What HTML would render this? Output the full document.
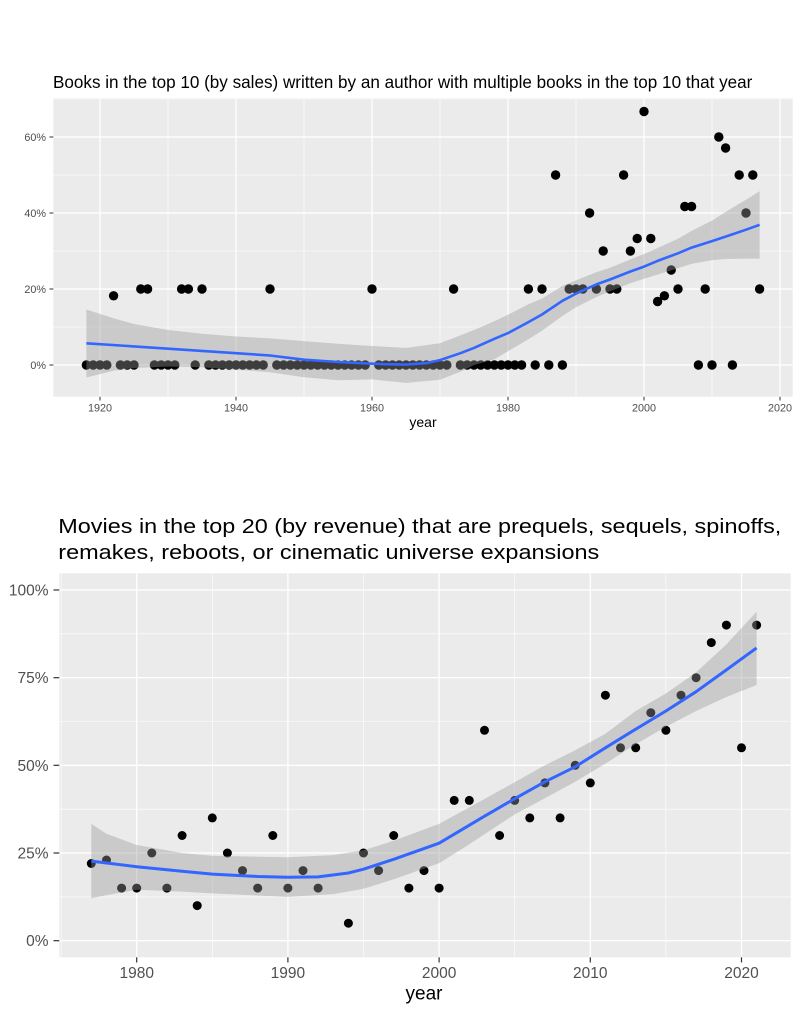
<!DOCTYPE html>
<html><head><meta charset="utf-8"><style>
html,body{margin:0;padding:0;background:#fff;}
svg{display:block;}
text{font-family:"Liberation Sans",Arial,sans-serif;}
</style></head><body>
<svg width="800" height="1014" viewBox="0 0 800 1014" xmlns="http://www.w3.org/2000/svg">
<rect width="800" height="1014" fill="#fff"/>

<!-- ============ TOP CHART ============ -->
<text x="53" y="88" font-size="17.1" fill="#000">Books in the top 10 (by sales) written by an author with multiple books in the top 10 that year</text>
<rect x="53.3" y="98.3" width="739.4" height="298.4" fill="#EBEBEB"/>
<g stroke="#fff" stroke-width="0.6">
<line x1="53.3" x2="792.7" y1="327" y2="327"/><line x1="53.3" x2="792.7" y1="251" y2="251"/>
<line x1="53.3" x2="792.7" y1="175" y2="175"/><line x1="53.3" x2="792.7" y1="99" y2="99"/>
<line y1="98.3" y2="396.7" x1="168" x2="168"/><line y1="98.3" y2="396.7" x1="304" x2="304"/>
<line y1="98.3" y2="396.7" x1="440" x2="440"/><line y1="98.3" y2="396.7" x1="576" x2="576"/>
<line y1="98.3" y2="396.7" x1="712" x2="712"/>
</g>
<g stroke="#fff" stroke-width="1.2">
<line x1="53.3" x2="792.7" y1="365" y2="365"/><line x1="53.3" x2="792.7" y1="289" y2="289"/>
<line x1="53.3" x2="792.7" y1="213" y2="213"/><line x1="53.3" x2="792.7" y1="137" y2="137"/>
<line y1="98.3" y2="396.7" x1="100" x2="100"/><line y1="98.3" y2="396.7" x1="236" x2="236"/>
<line y1="98.3" y2="396.7" x1="372" x2="372"/><line y1="98.3" y2="396.7" x1="508" x2="508"/>
<line y1="98.3" y2="396.7" x1="644" x2="644"/><line y1="98.3" y2="396.7" x1="780" x2="780"/>
</g>
<!-- points -->
<g fill="#000">
<circle cx="86.4" cy="365" r="4.7"/><circle cx="93.2" cy="365" r="4.7"/><circle cx="100" cy="365" r="4.7"/><circle cx="106.8" cy="365" r="4.7"/>
<circle cx="120.4" cy="365" r="4.7"/><circle cx="127.2" cy="365" r="4.7"/><circle cx="134" cy="365" r="4.7"/>
<circle cx="154.4" cy="365" r="4.7"/><circle cx="161.2" cy="365" r="4.7"/><circle cx="168" cy="365" r="4.7"/><circle cx="174.8" cy="365" r="4.7"/>
<circle cx="195.2" cy="365" r="4.7"/>
<circle cx="208.8" cy="365" r="4.7"/><circle cx="215.6" cy="365" r="4.7"/><circle cx="222.4" cy="365" r="4.7"/><circle cx="229.2" cy="365" r="4.7"/><circle cx="236" cy="365" r="4.7"/><circle cx="242.8" cy="365" r="4.7"/><circle cx="249.6" cy="365" r="4.7"/><circle cx="256.4" cy="365" r="4.7"/><circle cx="263.2" cy="365" r="4.7"/>
<circle cx="276.8" cy="365" r="4.7"/><circle cx="283.6" cy="365" r="4.7"/><circle cx="290.4" cy="365" r="4.7"/><circle cx="297.2" cy="365" r="4.7"/><circle cx="304" cy="365" r="4.7"/><circle cx="310.8" cy="365" r="4.7"/><circle cx="317.6" cy="365" r="4.7"/><circle cx="324.4" cy="365" r="4.7"/><circle cx="331.2" cy="365" r="4.7"/><circle cx="338" cy="365" r="4.7"/><circle cx="344.8" cy="365" r="4.7"/><circle cx="351.6" cy="365" r="4.7"/><circle cx="358.4" cy="365" r="4.7"/><circle cx="365.2" cy="365" r="4.7"/>
<circle cx="378.8" cy="365" r="4.7"/><circle cx="385.6" cy="365" r="4.7"/><circle cx="392.4" cy="365" r="4.7"/><circle cx="399.2" cy="365" r="4.7"/><circle cx="406" cy="365" r="4.7"/><circle cx="412.8" cy="365" r="4.7"/><circle cx="419.6" cy="365" r="4.7"/><circle cx="426.4" cy="365" r="4.7"/><circle cx="433.2" cy="365" r="4.7"/><circle cx="440" cy="365" r="4.7"/><circle cx="446.8" cy="365" r="4.7"/>
<circle cx="460.4" cy="365" r="4.7"/><circle cx="467.2" cy="365" r="4.7"/><circle cx="474" cy="365" r="4.7"/><circle cx="480.8" cy="365" r="4.7"/><circle cx="487.6" cy="365" r="4.7"/><circle cx="494.4" cy="365" r="4.7"/><circle cx="501.2" cy="365" r="4.7"/><circle cx="508" cy="365" r="4.7"/><circle cx="514.8" cy="365" r="4.7"/><circle cx="521.6" cy="365" r="4.7"/>
<circle cx="535.2" cy="365" r="4.7"/><circle cx="548.8" cy="365" r="4.7"/><circle cx="562.4" cy="365" r="4.7"/>
<circle cx="698.4" cy="365" r="4.7"/><circle cx="712" cy="365" r="4.7"/><circle cx="732.4" cy="365" r="4.7"/>
<!-- 20% -->
<circle cx="140.8" cy="289" r="4.7"/><circle cx="147.6" cy="289" r="4.7"/><circle cx="181.6" cy="289" r="4.7"/><circle cx="188.4" cy="289" r="4.7"/><circle cx="202" cy="289" r="4.7"/><circle cx="270" cy="289" r="4.7"/><circle cx="372" cy="289" r="4.7"/><circle cx="453.6" cy="289" r="4.7"/><circle cx="528.4" cy="289" r="4.7"/><circle cx="542" cy="289" r="4.7"/><circle cx="569.2" cy="289" r="4.7"/><circle cx="576" cy="289" r="4.7"/><circle cx="582.8" cy="289" r="4.7"/><circle cx="596.4" cy="289" r="4.7"/><circle cx="610" cy="289" r="4.7"/><circle cx="616.8" cy="289" r="4.7"/><circle cx="678" cy="289" r="4.7"/><circle cx="705.2" cy="289" r="4.7"/><circle cx="759.6" cy="289" r="4.7"/>
<!-- others -->
<circle cx="113.6" cy="295.8" r="4.7"/><circle cx="664.4" cy="295.8" r="4.7"/>
<circle cx="555.6" cy="175" r="4.7"/><circle cx="623.6" cy="175" r="4.7"/><circle cx="739.2" cy="175" r="4.7"/><circle cx="752.8" cy="175" r="4.7"/>
<circle cx="589.6" cy="213" r="4.7"/><circle cx="746" cy="213" r="4.7"/>
<circle cx="603.2" cy="251" r="4.7"/><circle cx="630.4" cy="251" r="4.7"/>
<circle cx="637.2" cy="238.5" r="4.7"/><circle cx="650.8" cy="238.5" r="4.7"/>
<circle cx="644" cy="111.5" r="4.7"/>
<circle cx="657.6" cy="301.5" r="4.7"/>
<circle cx="671.2" cy="270" r="4.7"/>
<circle cx="684.8" cy="206.5" r="4.7"/><circle cx="691.6" cy="206.5" r="4.7"/>
<circle cx="718.8" cy="137" r="4.7"/>
<circle cx="725.6" cy="148" r="4.7"/>
</g>
<!-- ribbon -->
<polygon fill="#999999" fill-opacity="0.4" points="86.4,309.5 113.6,318.3 134,324 168,330 202,333.8 236,336.5 270,338.4 304,341.1 338,343.7 372,346 406,347.9 440,343.3 474,330 494.4,321.3 508,314.8 528.4,304.2 542,298.5 562.4,286 576,280.3 596.4,272.3 610,267.7 630.4,259.4 644,254 657.6,248 678,238.8 691.6,230.9 712,220.6 725.6,211.9 746,199.7 759.6,191.3 759.6,258.6 746,258.6 725.6,259 712,260.1 691.6,263.9 678,268.1 657.6,274.6 644,278.7 630.4,283.3 610,291.3 596.4,297 576,307.2 562.4,316 542,330.8 528.4,339.2 508,351.3 494.4,359.3 474,365 460.4,371.8 440,379.8 406,382.9 372,379.4 338,380.2 304,377.2 270,372.2 236,369.6 202,367.3 168,366.5 134,368 113.6,370.7 86.4,377.5"/>
<polyline fill="none" stroke="#3366FF" stroke-width="2.6" stroke-linejoin="round" stroke-linecap="butt" points="86.4,343.3 134,346.4 168,348.7 202,350.9 236,353.2 270,355.5 304,359.7 338,362 358.4,363.1 385.6,364.2 406,364.6 426.4,363.1 440,360.1 460.4,353.2 474,347.9 494.4,338.8 508,333.1 528.4,322.1 542,314.5 562.4,300.8 576,293.6 596.4,284.4 610,279.5 630.4,271.5 644,266.6 657.6,260.9 678,253.3 691.6,247.6 712,241.1 725.6,236.6 746,229.7 759.6,224.8"/>
<!-- axes ticks -->
<g stroke="#333" stroke-width="1">
<line x1="49.5" x2="53.3" y1="365" y2="365"/><line x1="49.5" x2="53.3" y1="289" y2="289"/><line x1="49.5" x2="53.3" y1="213" y2="213"/><line x1="49.5" x2="53.3" y1="137" y2="137"/>
<line y1="396.7" y2="400.5" x1="100" x2="100"/><line y1="396.7" y2="400.5" x1="236" x2="236"/><line y1="396.7" y2="400.5" x1="372" x2="372"/><line y1="396.7" y2="400.5" x1="508" x2="508"/><line y1="396.7" y2="400.5" x1="644" x2="644"/><line y1="396.7" y2="400.5" x1="780" x2="780"/>
</g>
<g font-size="10.8" fill="#4D4D4D" text-anchor="end">
<text x="46" y="369">0%</text><text x="46" y="293">20%</text><text x="46" y="217">40%</text><text x="46" y="141">60%</text>
</g>
<g font-size="10.8" fill="#4D4D4D" text-anchor="middle">
<text x="100" y="411.5">1920</text><text x="236" y="411.5">1940</text><text x="372" y="411.5">1960</text><text x="508" y="411.5">1980</text><text x="644" y="411.5">2000</text><text x="780" y="411.5">2020</text>
</g>
<text x="423" y="427" font-size="14" fill="#000" text-anchor="middle">year</text>

<!-- ============ BOTTOM CHART ============ -->
<text x="58.3" y="533" font-size="20.5" fill="#000" textLength="723" lengthAdjust="spacingAndGlyphs">Movies in the top 20 (by revenue) that are prequels, sequels, spinoffs,</text>
<text x="58.3" y="559" font-size="20.5" fill="#000" textLength="541" lengthAdjust="spacingAndGlyphs">remakes, reboots, or cinematic universe expansions</text>
<rect x="59.3" y="573.3" width="731.4" height="384" fill="#EBEBEB"/>
<g stroke="#fff" stroke-width="0.6">
<line x1="59.3" x2="790.7" y1="896.9" y2="896.9"/><line x1="59.3" x2="790.7" y1="809.2" y2="809.2"/>
<line x1="59.3" x2="790.7" y1="721.5" y2="721.5"/><line x1="59.3" x2="790.7" y1="633.8" y2="633.8"/>
<line y1="573.3" y2="957.3" x1="61.1" x2="61.1"/><line y1="573.3" y2="957.3" x1="212.3" x2="212.3"/>
<line y1="573.3" y2="957.3" x1="363.5" x2="363.5"/><line y1="573.3" y2="957.3" x1="514.7" x2="514.7"/>
<line y1="573.3" y2="957.3" x1="665.9" x2="665.9"/>
</g>
<g stroke="#fff" stroke-width="1.3">
<line x1="59.3" x2="790.7" y1="940.7" y2="940.7"/><line x1="59.3" x2="790.7" y1="853" y2="853"/>
<line x1="59.3" x2="790.7" y1="765.3" y2="765.3"/><line x1="59.3" x2="790.7" y1="677.7" y2="677.7"/>
<line x1="59.3" x2="790.7" y1="590" y2="590"/>
<line y1="573.3" y2="957.3" x1="136.7" x2="136.7"/><line y1="573.3" y2="957.3" x1="287.9" x2="287.9"/>
<line y1="573.3" y2="957.3" x1="439.1" x2="439.1"/><line y1="573.3" y2="957.3" x1="590.3" x2="590.3"/>
<line y1="573.3" y2="957.3" x1="741.5" x2="741.5"/>
</g>
<g fill="#000">
<circle cx="91.3" cy="863.5" r="4.5"/><circle cx="106.5" cy="860" r="4.5"/><circle cx="121.6" cy="888.1" r="4.5"/><circle cx="136.7" cy="888.1" r="4.5"/>
<circle cx="151.8" cy="853" r="4.5"/><circle cx="166.9" cy="888.1" r="4.5"/><circle cx="182.1" cy="835.5" r="4.5"/><circle cx="197.2" cy="905.6" r="4.5"/>
<circle cx="212.3" cy="817.9" r="4.5"/><circle cx="227.4" cy="853" r="4.5"/><circle cx="242.5" cy="870.6" r="4.5"/><circle cx="257.7" cy="888.1" r="4.5"/>
<circle cx="272.8" cy="835.5" r="4.5"/><circle cx="287.9" cy="888.1" r="4.5"/><circle cx="303" cy="870.6" r="4.5"/><circle cx="318.1" cy="888.1" r="4.5"/>
<circle cx="348.4" cy="923.2" r="4.5"/><circle cx="363.5" cy="853" r="4.5"/><circle cx="378.6" cy="870.6" r="4.5"/><circle cx="393.7" cy="835.5" r="4.5"/>
<circle cx="408.9" cy="888.1" r="4.5"/><circle cx="424" cy="870.6" r="4.5"/><circle cx="439.1" cy="888.1" r="4.5"/><circle cx="454.2" cy="800.4" r="4.5"/>
<circle cx="469.3" cy="800.4" r="4.5"/><circle cx="484.5" cy="730.3" r="4.5"/><circle cx="499.6" cy="835.5" r="4.5"/><circle cx="514.7" cy="800.4" r="4.5"/>
<circle cx="529.8" cy="817.9" r="4.5"/><circle cx="544.9" cy="782.9" r="4.5"/><circle cx="560.1" cy="817.9" r="4.5"/><circle cx="575.2" cy="765.3" r="4.5"/>
<circle cx="590.3" cy="782.9" r="4.5"/><circle cx="605.4" cy="695.2" r="4.5"/><circle cx="620.5" cy="747.8" r="4.5"/><circle cx="635.7" cy="747.8" r="4.5"/>
<circle cx="650.8" cy="712.7" r="4.5"/><circle cx="665.9" cy="730.3" r="4.5"/><circle cx="681" cy="695.2" r="4.5"/><circle cx="696.1" cy="677.7" r="4.5"/>
<circle cx="711.3" cy="642.6" r="4.5"/><circle cx="726.4" cy="625.1" r="4.5"/><circle cx="741.5" cy="747.8" r="4.5"/><circle cx="756.6" cy="625.1" r="4.5"/>
</g>
<polygon fill="#999999" fill-opacity="0.4" points="91.3,823.9 106.5,833.7 136.7,845 182.1,853 212.3,855.8 287.9,857.2 333.3,855.1 363.5,850.2 393.7,840.8 439.1,823.9 469.3,807.4 514.7,782.2 544.9,765.3 575.2,750.3 605.4,733.8 635.7,711 665.9,693.5 696.1,672.4 726.4,644.4 756.6,611.7 756.6,685 726.4,697 696.1,711 665.9,726.8 635.7,744.3 605.4,763.6 575.2,781.8 544.9,798.3 514.7,814.4 469.3,844.3 439.1,863.2 393.7,879.3 363.5,888.8 333.3,894.1 287.9,896.9 212.3,893.4 182.1,891.6 136.7,889.8 106.5,895.1 91.3,898.3"/>
<polyline fill="none" stroke="#3366FF" stroke-width="3" stroke-linejoin="round" points="91.3,861.1 136.7,866.7 182.1,871.3 212.3,874.1 257.7,876.5 287.9,877.2 318.1,876.9 348.4,873 363.5,869.2 393.7,859.3 439.1,843.2 484.5,816.2 514.7,798.7 544.9,781.8 575.2,766.8 605.4,747.8 635.7,729.2 665.9,711 696.1,691.7 726.4,669.9 756.6,647.9"/>
<g stroke="#333" stroke-width="1.2">
<line x1="53.5" x2="59.3" y1="940.7" y2="940.7"/><line x1="53.5" x2="59.3" y1="853" y2="853"/><line x1="53.5" x2="59.3" y1="765.3" y2="765.3"/><line x1="53.5" x2="59.3" y1="677.7" y2="677.7"/><line x1="53.5" x2="59.3" y1="590" y2="590"/>
<line y1="957.3" y2="962.5" x1="136.7" x2="136.7"/><line y1="957.3" y2="962.5" x1="287.9" x2="287.9"/><line y1="957.3" y2="962.5" x1="439.1" x2="439.1"/><line y1="957.3" y2="962.5" x1="590.3" x2="590.3"/><line y1="957.3" y2="962.5" x1="741.5" x2="741.5"/>
</g>
<g font-size="15.5" fill="#505050" text-anchor="end">
<text x="48.5" y="946.2">0%</text><text x="48.5" y="858.5">25%</text><text x="48.5" y="770.8">50%</text><text x="48.5" y="683.2">75%</text><text x="48.5" y="595.5">100%</text>
</g>
<g font-size="15.5" fill="#505050" text-anchor="middle">
<text x="136.7" y="978.2">1980</text><text x="287.9" y="978.2">1990</text><text x="439.1" y="978.2">2000</text><text x="590.3" y="978.2">2010</text><text x="741.5" y="978.2">2020</text>
</g>
<text x="424" y="999.5" font-size="19" fill="#000" text-anchor="middle">year</text>
</svg>
</body></html>
